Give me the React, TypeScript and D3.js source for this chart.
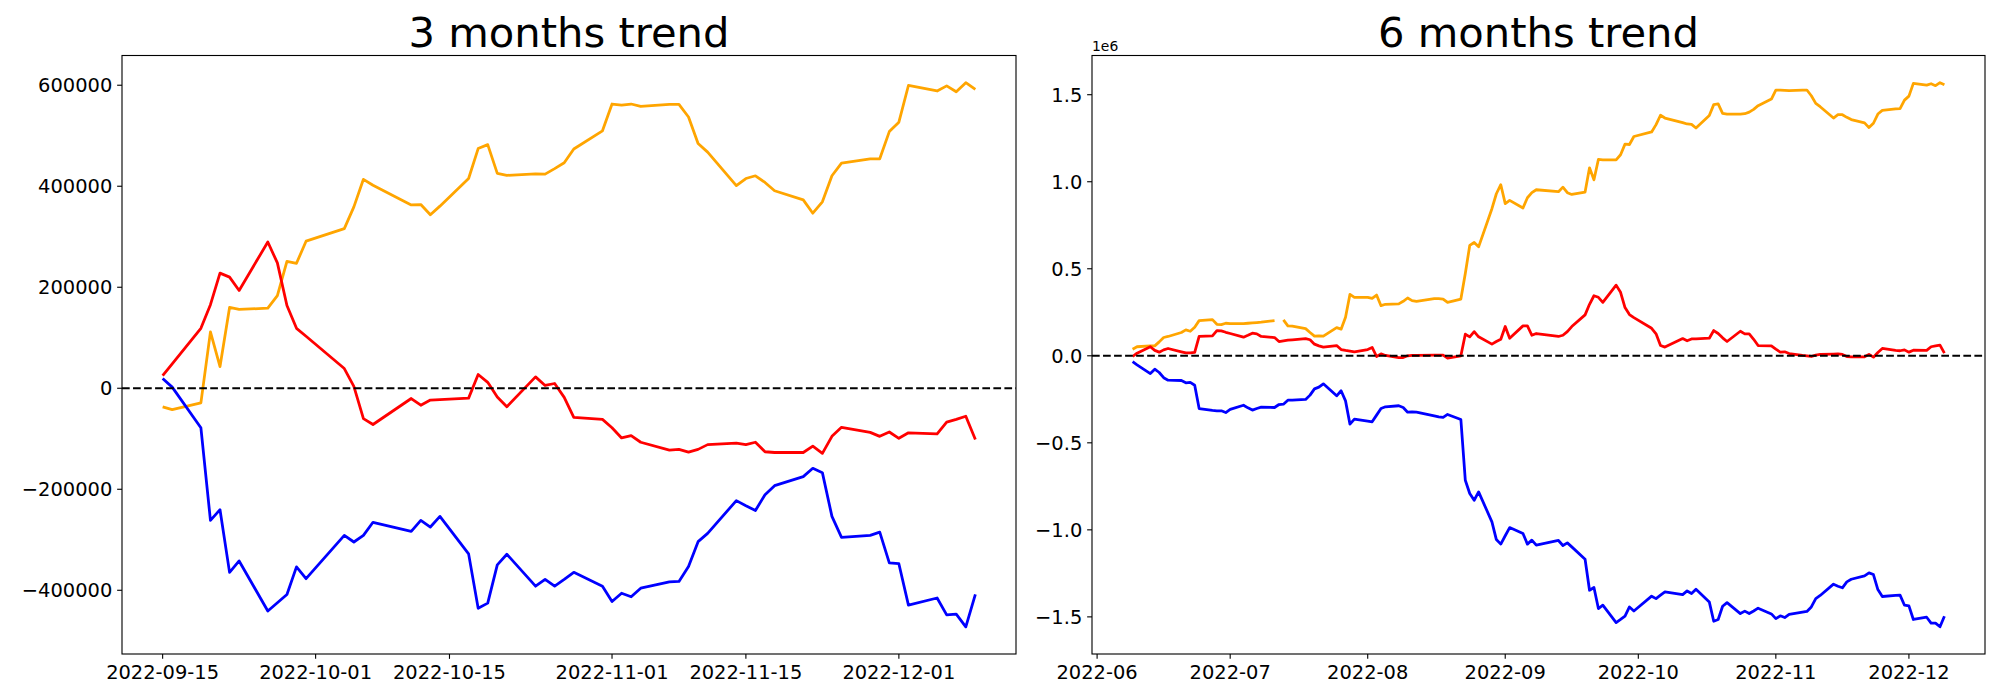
import React from "react";
import * as d3 from "d3";

// ---------- 3 months panel data ----------
const threeMonthDates = [
  "2022-09-15","2022-09-16","2022-09-19","2022-09-20","2022-09-21","2022-09-22","2022-09-23",
  "2022-09-26","2022-09-27","2022-09-28","2022-09-29","2022-09-30",
  "2022-10-04","2022-10-05","2022-10-06","2022-10-07","2022-10-11","2022-10-12","2022-10-13","2022-10-14",
  "2022-10-17","2022-10-18","2022-10-19","2022-10-20","2022-10-21","2022-10-24","2022-10-25","2022-10-26",
  "2022-10-27","2022-10-28","2022-10-31",
  "2022-11-01","2022-11-02","2022-11-03","2022-11-04","2022-11-07","2022-11-08","2022-11-09","2022-11-10",
  "2022-11-11","2022-11-14","2022-11-15","2022-11-16","2022-11-17","2022-11-18","2022-11-21","2022-11-22",
  "2022-11-23","2022-11-24","2022-11-25","2022-11-28","2022-11-29","2022-11-30",
  "2022-12-01","2022-12-02","2022-12-05","2022-12-06","2022-12-07","2022-12-08","2022-12-09",
];
const threeMonthOrange = [
  -36700,-42200,-28900,111600,42900,160000,156100,
  158500,183400,251400,247400,291200,
  316100,359100,413700,402000,363000,363800,343500,360600,
  415300,474600,482400,425400,421500,424600,423900,434800,
  446500,473800,509700,
  562800,560500,562800,558100,562000,562000,537100,484800,
  467600,401200,415300,420700,407500,391100,373100,346600,
  369200,420700,445700,454300,454300,508200,
  526900,599500,588600,598700,587000,605000,591700,
];
const threeMonthRed = [
  25000,48400,118700,165500,227900,220100,193600,
  289600,248200,163900,118700,103000,
  39000,3900,-60100,-71800,-20300,-33600,-23400,-22600,
  -19500,27300,11700,-17200,-36700,22600,5500,9400,
  -18000,-57800,-61700,
  -78100,-98400,-93700,-106900,-122600,-121000,-126500,-121000,
  -111600,-108500,-111600,-106900,-125700,-127200,-127200,-114700,
  -128800,-95200,-77300,-87400,-95200,-86600,
  -99100,-88200,-90500,-67100,-61700,-55400,-101500,
];
const threeMonthBlue = [
  19500,2300,-78100,-261500,-240400,-364500,-341900,
  -441000,-424600,-408300,-353600,-377000,
  -291200,-304400,-291200,-265400,-283400,-261500,-274800,-253700,
  -327900,-435600,-425400,-349700,-328600,-391900,-378600,-391900,
  -378600,-364500,-391900,
  -422300,-405900,-412900,-395800,-383300,-382500,-352800,-303700,
  -287300,-222500,-232600,-242000,-210800,-192800,-174900,-158500,
  -167100,-253700,-295100,-291200,-284900,-345800,
  -347400,-429300,-415300,-448800,-447300,-472300,-408300,
];
const threeMonthXTicks = ["2022-09-15","2022-10-01","2022-10-15","2022-11-01","2022-11-15","2022-12-01"];
const threeMonthYTicks = [-400000,-200000,0,200000,400000,600000];

// ---------- 6 months panel data (values in 1e6) ----------
const sixMonthDates = [
  "2022-06-09","2022-06-10","2022-06-13","2022-06-14","2022-06-15","2022-06-16","2022-06-17",
  "2022-06-20","2022-06-21","2022-06-22","2022-06-23","2022-06-24","2022-06-27","2022-06-28",
  "2022-06-29","2022-06-30",
  "2022-07-01","2022-07-04","2022-07-05","2022-07-06","2022-07-07","2022-07-08","2022-07-11",
  "2022-07-12","2022-07-13","2022-07-14","2022-07-15","2022-07-18","2022-07-19","2022-07-20",
  "2022-07-21","2022-07-22","2022-07-25","2022-07-26","2022-07-27","2022-07-28","2022-07-29",
  "2022-08-01","2022-08-02","2022-08-03","2022-08-04","2022-08-05","2022-08-08","2022-08-09",
  "2022-08-10","2022-08-11","2022-08-12","2022-08-16","2022-08-17","2022-08-18","2022-08-19",
  "2022-08-22","2022-08-23","2022-08-24","2022-08-25","2022-08-26","2022-08-29","2022-08-30",
  "2022-08-31",
  "2022-09-01","2022-09-02","2022-09-05","2022-09-06","2022-09-07","2022-09-08","2022-09-13",
  "2022-09-14","2022-09-15","2022-09-16","2022-09-19","2022-09-20","2022-09-21","2022-09-22",
  "2022-09-23","2022-09-26","2022-09-27","2022-09-28","2022-09-29","2022-09-30",
  "2022-10-04","2022-10-05","2022-10-06","2022-10-07","2022-10-11","2022-10-12","2022-10-13",
  "2022-10-14","2022-10-17","2022-10-18","2022-10-19","2022-10-20","2022-10-21","2022-10-24",
  "2022-10-25","2022-10-26","2022-10-27","2022-10-28","2022-10-31",
  "2022-11-01","2022-11-02","2022-11-03","2022-11-04","2022-11-07","2022-11-08","2022-11-09",
  "2022-11-10","2022-11-11","2022-11-14","2022-11-15","2022-11-16","2022-11-17","2022-11-18",
  "2022-11-21","2022-11-22","2022-11-23","2022-11-24","2022-11-25","2022-11-28","2022-11-29",
  "2022-11-30",
  "2022-12-01","2022-12-02","2022-12-05","2022-12-06","2022-12-07","2022-12-08","2022-12-09",
];
const sixMonthOrange = [
  0.038,0.052,0.057,0.057,0.080,0.105,0.111,
  0.134,0.149,0.141,0.164,0.202,0.208,0.181,
  0.179,0.187,
  0.185,0.185,0.187,0.189,0.191,0.193,0.202,
  NaN,0.206,0.172,0.170,0.156,0.134,0.113,
  0.115,0.113,0.162,0.153,0.221,0.353,0.336,
  0.336,0.330,0.349,0.288,0.296,0.298,0.313,
  0.332,0.317,0.313,0.328,0.328,0.326,0.307,
  0.326,0.473,0.634,0.651,0.626,0.845,0.931,
  0.983,
  0.874,0.893,0.849,0.908,0.937,0.954,0.943,
  0.969,0.937,0.927,0.941,1.080,1.011,1.128,
  1.126,1.126,1.155,1.216,1.214,1.260,
  1.286,1.328,1.382,1.366,1.340,1.332,1.330,
  1.309,1.380,1.443,1.447,1.393,1.389,1.389,
  1.391,1.400,1.416,1.437,1.475,
  1.527,1.527,1.525,1.523,1.527,1.527,1.494,
  1.450,1.431,1.366,1.385,1.385,1.370,1.357,
  1.338,1.311,1.336,1.389,1.410,1.418,1.420,
  1.469,
  1.492,1.565,1.555,1.563,1.552,1.569,1.557,
];
const sixMonthRed = [
  -0.004,0.015,0.052,0.031,0.021,0.034,0.042,
  0.023,0.017,0.017,0.019,0.111,0.115,0.145,
  0.143,0.135,
  0.128,0.107,0.118,0.130,0.126,0.111,0.105,
  0.082,0.086,0.090,0.092,0.099,0.092,0.067,
  0.057,0.050,0.059,0.036,0.031,0.027,0.023,
  0.036,0.048,-0.004,0.011,0.002,-0.010,-0.010,
  0.000,0.002,0.002,0.004,0.004,0.004,-0.013,
  0.000,0.124,0.109,0.139,0.109,0.067,0.082,
  0.095,
  0.168,0.101,0.172,0.172,0.118,0.128,0.111,
  0.118,0.139,0.168,0.235,0.296,0.345,0.336,
  0.307,0.406,0.365,0.277,0.237,0.219,
  0.158,0.126,0.059,0.050,0.099,0.086,0.097,
  0.097,0.101,0.145,0.128,0.103,0.082,0.141,
  0.126,0.126,0.095,0.059,0.057,
  0.038,0.021,0.023,0.013,0.002,0.000,-0.004,
  0.004,0.008,0.010,0.011,0.008,-0.004,-0.006,
  -0.006,0.008,-0.008,0.019,0.042,0.031,0.029,
  0.034,
  0.021,0.032,0.031,0.052,0.057,0.061,0.015,
];
const sixMonthBlue = [
  -0.034,-0.052,-0.102,-0.077,-0.096,-0.126,-0.140,
  -0.142,-0.155,-0.153,-0.169,-0.303,-0.314,-0.316,
  -0.316,-0.326,
  -0.308,-0.284,-0.299,-0.312,-0.303,-0.295,-0.297,
  -0.280,-0.278,-0.255,-0.255,-0.251,-0.226,-0.190,
  -0.180,-0.161,-0.230,-0.201,-0.259,-0.393,-0.364,
  -0.375,-0.379,-0.341,-0.303,-0.293,-0.287,-0.297,
  -0.324,-0.322,-0.324,-0.345,-0.351,-0.354,-0.337,
  -0.366,-0.715,-0.791,-0.830,-0.782,-0.954,-1.056,
  -1.082,
  -1.034,-0.987,-1.021,-1.082,-1.059,-1.088,-1.061,
  -1.090,-1.075,-1.098,-1.169,-1.347,-1.331,-1.452,
  -1.433,-1.533,-1.515,-1.496,-1.443,-1.466,
  -1.381,-1.395,-1.375,-1.356,-1.372,-1.351,-1.366,
  -1.341,-1.414,-1.525,-1.515,-1.439,-1.418,-1.481,
  -1.467,-1.481,-1.466,-1.450,-1.483,
  -1.510,-1.494,-1.504,-1.485,-1.473,-1.469,-1.443,
  -1.395,-1.377,-1.312,-1.324,-1.333,-1.299,-1.284,
  -1.264,-1.247,-1.257,-1.343,-1.383,-1.377,-1.375,
  -1.433,
  -1.437,-1.515,-1.502,-1.536,-1.536,-1.557,-1.496,
];
const sixMonthXTicks = ["2022-06","2022-07","2022-08","2022-09","2022-10","2022-11","2022-12"];
const sixMonthYTicks = [-1.5,-1.0,-0.5,0,0.5,1.0,1.5];

const parseDay = d3.timeParse("%Y-%m-%d");
const parseMonth = d3.timeParse("%Y-%m");

const FONT = "'DejaVu Sans', sans-serif";
const TICK_FS = 19.44;
const TICK_LEN = 4.86;
const TICK_PAD = 4.86;

type PanelProps = {
  box: { x0: number; x1: number; y0: number; y1: number };
  title: string;
  dates: Date[];
  series: { values: number[]; color: string }[];
  xTicks: Date[];
  xTickLabels: string[];
  yTicks: number[];
  yFmt: (v: number) => string;
  offsetText?: string;
};

function Panel({ box, title, dates, series, xTicks, xTickLabels, yTicks, yFmt, offsetText }: PanelProps) {
  const [t0, t1] = d3.extent(dates) as [Date, Date];
  const span = +t1 - +t0;
  const x = d3
    .scaleTime()
    .domain([new Date(+t0 - 0.05 * span), new Date(+t1 + 0.05 * span)])
    .range([box.x0, box.x1]);
  const all = series.flatMap((s) => s.values.filter((v) => !isNaN(v)));
  const ymin = d3.min(all) as number;
  const ymax = d3.max(all) as number;
  const yspan = ymax - ymin;
  const y = d3
    .scaleLinear()
    .domain([ymin - 0.05 * yspan, ymax + 0.05 * yspan])
    .range([box.y1, box.y0]);

  const line = (vals: number[]) =>
    d3
      .line<number>()
      .defined((v) => !isNaN(v))
      .x((_, i) => x(dates[i]))
      .y((v) => y(v))(vals) as string;

  const cx = (box.x0 + box.x1) / 2;
  return (
    <g>
      <clipPath id={`clip-${title.replace(/\s/g, "")}`}>
        <rect x={box.x0} y={box.y0} width={box.x1 - box.x0} height={box.y1 - box.y0} />
      </clipPath>
      <g clipPath={`url(#clip-${title.replace(/\s/g, "")})`}>
        {series.map((s, i) => (
          <path
            key={i}
            d={line(s.values)}
            fill="none"
            stroke={s.color}
            strokeWidth={2.78}
            strokeLinejoin="round"
            strokeLinecap="butt"
          />
        ))}
        <line
          x1={box.x0}
          x2={box.x1}
          y1={y(0)}
          y2={y(0)}
          stroke="black"
          strokeWidth={2.08}
          strokeDasharray="7.7 3.33"
        />
      </g>
      <rect
        x={box.x0}
        y={box.y0}
        width={box.x1 - box.x0}
        height={box.y1 - box.y0}
        fill="none"
        stroke="black"
        strokeWidth={1.11}
      />
      {xTicks.map((t, i) => (
        <g key={i}>
          <line x1={x(t)} x2={x(t)} y1={box.y1} y2={box.y1 + TICK_LEN} stroke="black" strokeWidth={1.11} />
          <text
            x={x(t)}
            y={box.y1 + TICK_LEN + TICK_PAD + 14.8}
            textAnchor="middle"
            fontFamily={FONT}
            fontSize={TICK_FS}
            fill="black"
          >
            {xTickLabels[i]}
          </text>
        </g>
      ))}
      {yTicks.map((v, i) => (
        <g key={i}>
          <line x1={box.x0 - TICK_LEN} x2={box.x0} y1={y(v)} y2={y(v)} stroke="black" strokeWidth={1.11} />
          <text
            x={box.x0 - TICK_LEN - TICK_PAD}
            y={y(v) + 7.1}
            textAnchor="end"
            fontFamily={FONT}
            fontSize={TICK_FS}
            fill="black"
          >
            {yFmt(v)}
          </text>
        </g>
      ))}
      {offsetText && (
        <text x={box.x0} y={box.y0 - 4.5} fontFamily={FONT} fontSize={13.9} fill="black">
          {offsetText}
        </text>
      )}
      <text x={cx} y={box.y0 - 8.33} textAnchor="middle" fontFamily={FONT} fontSize={41.67} fill="black">
        {title}
      </text>
    </g>
  );
}

const minus = (s: string) => s.replace("-", "\u2212");

export default function App() {
  const leftDates = threeMonthDates.map((d) => parseDay(d) as Date);
  const rightDates = sixMonthDates.map((d) => parseDay(d) as Date);
  return (
    <svg
      width={2000}
      height={700}
      style={{ position: "absolute", left: 0, top: 0, background: "white" }}
      xmlns="http://www.w3.org/2000/svg"
    >
      <rect x={0} y={0} width={2000} height={700} fill="white" />
      <Panel
        box={{ x0: 122, x1: 1016, y0: 55.5, y1: 654 }}
        title="3 months trend"
        dates={leftDates}
        series={[
          { values: threeMonthOrange, color: "orange" },
          { values: threeMonthRed, color: "red" },
          { values: threeMonthBlue, color: "blue" },
        ]}
        xTicks={threeMonthXTicks.map((d) => parseDay(d) as Date)}
        xTickLabels={threeMonthXTicks}
        yTicks={threeMonthYTicks}
        yFmt={(v) => minus(String(v))}
      />
      <Panel
        box={{ x0: 1092, x1: 1985, y0: 55.5, y1: 654 }}
        title="6 months trend"
        dates={rightDates}
        series={[
          { values: sixMonthOrange, color: "orange" },
          { values: sixMonthRed, color: "red" },
          { values: sixMonthBlue, color: "blue" },
        ]}
        xTicks={sixMonthXTicks.map((d) => parseMonth(d) as Date)}
        xTickLabels={sixMonthXTicks}
        yTicks={sixMonthYTicks}
        yFmt={(v) => minus(d3.format(".1f")(v))}
        offsetText="1e6"
      />
    </svg>
  );
}
